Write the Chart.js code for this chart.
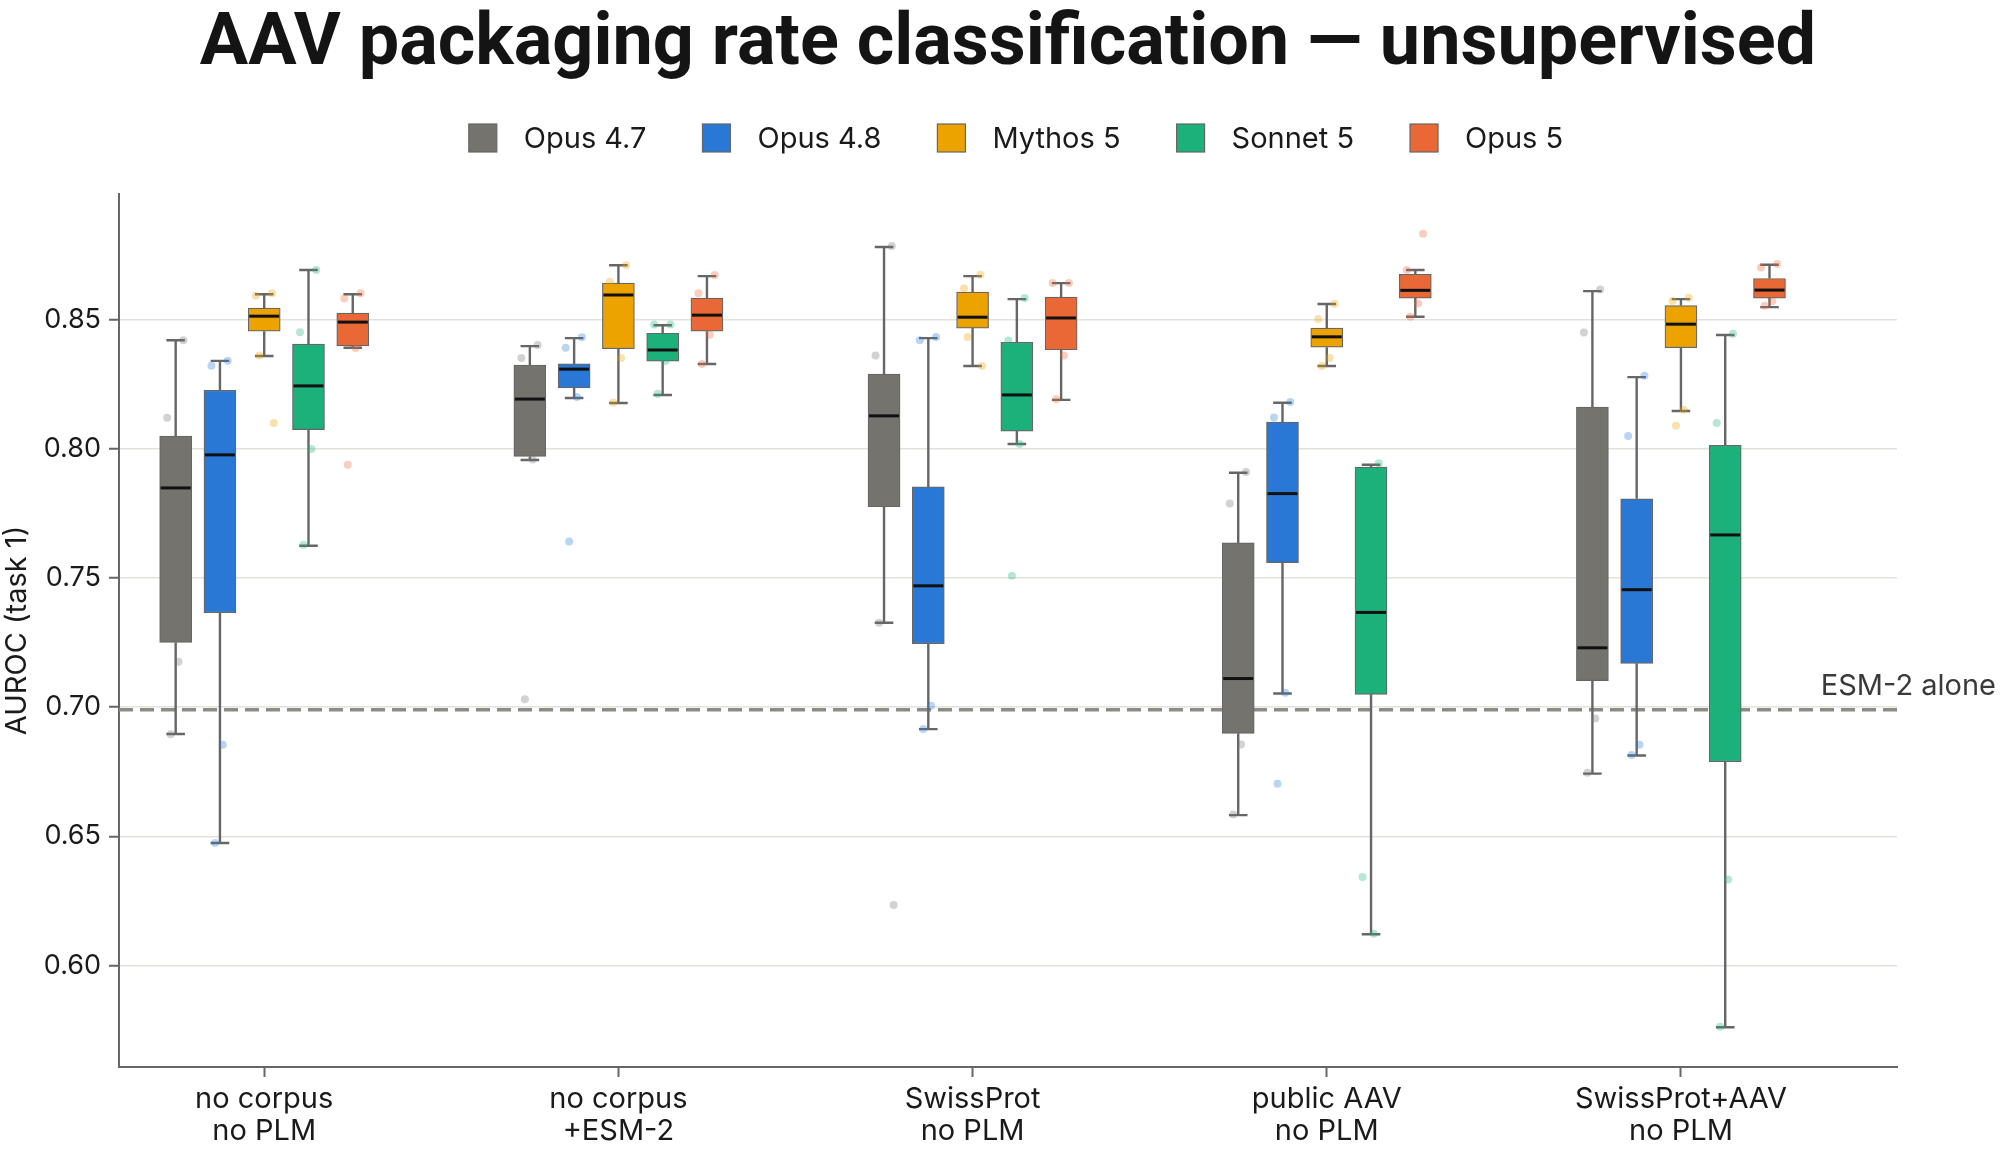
<!DOCTYPE html>
<html>
<head>
<meta charset="utf-8">
<script src="https://cdn.jsdelivr.net/npm/chart.js@4.4.1/dist/chart.umd.min.js"></script>
<style>
  html, body { margin: 0; padding: 0; background: #ffffff; }
  #wrap { width: 2000px; height: 1160px; }
</style>
</head>
<body>
<div id="wrap"><canvas id="aavChart" width="2000" height="1160"></canvas></div>
<script>
// --- Datos ---
const chartTitle = 'AAV packaging rate classification — unsupervised';
const groupLabels = [
  ['no corpus', 'no PLM'],
  ['no corpus', '+ESM-2'],
  ['SwissProt', 'no PLM'],
  ['public AAV', 'no PLM'],
  ['SwissProt+AAV', 'no PLM'],
];
const modelNames = ['Opus 4.7', 'Opus 4.8', 'Mythos 5', 'Sonnet 5', 'Opus 5'];
const modelColors = ['#74736d', '#2a78d5', '#eca300', '#1cb07a', '#ea6835'];
const yTicks = [0.60, 0.65, 0.70, 0.75, 0.80, 0.85];
const esmBaseline = 0.699;

// [bigote inf, Q1, mediana, Q3, bigote sup] por grupo
const opus47Box = [
  [0.6896, 0.7251, 0.7849, 0.8050, 0.8421],
  [0.7957, 0.7971, 0.8193, 0.8325, 0.8398],
  [0.7327, 0.7776, 0.8128, 0.8290, 0.8782],
  [0.6582, 0.6899, 0.7111, 0.7636, 0.7908],
  [0.6743, 0.7103, 0.7230, 0.8162, 0.8611],
];
const opus48Box = [
  [0.6474, 0.7366, 0.7977, 0.8227, 0.8341],
  [0.8197, 0.8236, 0.8309, 0.8329, 0.8429],
  [0.6915, 0.7246, 0.7470, 0.7853, 0.8429],
  [0.7053, 0.7560, 0.7827, 0.8104, 0.8179],
  [0.6813, 0.7170, 0.7455, 0.7807, 0.8278],
];
const mythos5Box = [
  [0.8360, 0.8456, 0.8514, 0.8545, 0.8599],
  [0.8178, 0.8388, 0.8596, 0.8642, 0.8711],
  [0.8321, 0.8468, 0.8510, 0.8607, 0.8669],
  [0.8321, 0.8394, 0.8434, 0.8468, 0.8561],
  [0.8147, 0.8392, 0.8483, 0.8555, 0.8580],
];
const sonnet5Box = [
  [0.7625, 0.8075, 0.8244, 0.8406, 0.8693],
  [0.8209, 0.8340, 0.8383, 0.8448, 0.8479],
  [0.8019, 0.8069, 0.8209, 0.8413, 0.8580],
  [0.6121, 0.7050, 0.7367, 0.7930, 0.7939],
  [0.5761, 0.6789, 0.7667, 0.8014, 0.8441],
];
const opus5Box = [
  [0.8392, 0.8399, 0.8491, 0.8526, 0.8599],
  [0.8329, 0.8456, 0.8518, 0.8584, 0.8669],
  [0.8190, 0.8384, 0.8507, 0.8588, 0.8642],
  [0.8512, 0.8584, 0.8614, 0.8676, 0.8693],
  [0.8549, 0.8584, 0.8615, 0.8660, 0.8713],
];

// puntos individuales (semillas) por grupo
const opus47Pts = [
  [0.8421, 0.8121, 0.7176, 0.6895],
  [0.8402, 0.8352, 0.7959, 0.7031],
  [0.8786, 0.8362, 0.8128, 0.7327, 0.6234],
  [0.7911, 0.7789, 0.6856, 0.6585],
  [0.8617, 0.8451, 0.6956, 0.6746],
];
const opus48Pts = [
  [0.8341, 0.8322, 0.6855, 0.6474],
  [0.8432, 0.8392, 0.8201, 0.7642],
  [0.8433, 0.8421, 0.7006, 0.6916],
  [0.8182, 0.8122, 0.7056, 0.6704],
  [0.8283, 0.8050, 0.6855, 0.6815],
];
const mythos5Pts = [
  [0.8603, 0.8593, 0.8514, 0.8362, 0.8100],
  [0.8711, 0.8647, 0.8352, 0.8180],
  [0.8674, 0.8622, 0.8510, 0.8433, 0.8321],
  [0.8562, 0.8503, 0.8352, 0.8321],
  [0.8585, 0.8573, 0.8152, 0.8090],
];
const sonnet5Pts = [
  [0.8693, 0.8452, 0.8000, 0.7629],
  [0.8482, 0.8482, 0.8340, 0.8214],
  [0.8584, 0.8420, 0.8019, 0.7509],
  [0.7945, 0.6343, 0.6123],
  [0.8446, 0.8100, 0.6333, 0.5763],
];
const opus5Pts = [
  [0.8603, 0.8582, 0.8391, 0.7939],
  [0.8673, 0.8603, 0.8442, 0.8329],
  [0.8642, 0.8642, 0.8362, 0.8192],
  [0.8833, 0.8693, 0.8563, 0.8512],
  [0.8716, 0.8702, 0.8572, 0.8554],
];

const allBoxes = [opus47Box, opus48Box, mythos5Box, sonnet5Box, opus5Box];
const allPts = [opus47Pts, opus48Pts, mythos5Pts, sonnet5Pts, opus5Pts];

// --- Disposición ---
const modelOffsets = [-0.25, -0.125, 0, 0.125, 0.25];
const jitterPattern = [0.022, -0.024, 0.008, -0.014, 0.027];
const BOX_PX = 32;
const FONT = "Inter, 'Noto Sans', 'DejaVu Sans', sans-serif";

function withAlpha(hex, a) {
  const n = parseInt(hex.slice(1), 16);
  return `rgba(${(n >> 16) & 255}, ${(n >> 8) & 255}, ${n & 255}, ${a})`;
}

const boxDatasets = modelNames.map((name, m) => ({
  type: 'bar',
  label: name,
  data: allBoxes[m].map((b, g) => ({ x: g + modelOffsets[m], y: [b[1], b[3]] })),
  backgroundColor: modelColors[m],
  borderColor: '#666666',
  borderWidth: 1.2,
  borderSkipped: false,
  barThickness: BOX_PX,
  grouped: false,
  order: 2,
}));

const pointDatasets = modelNames.map((name, m) => ({
  type: 'scatter',
  label: name + ' pts',
  data: allPts[m].flatMap((vals, g) =>
    vals.map((v, k) => ({ x: g + modelOffsets[m] + jitterPattern[k % jitterPattern.length], y: v }))),
  backgroundColor: withAlpha(modelColors[m], 0.32),
  borderWidth: 0,
  pointRadius: 4,
  order: 1,
}));

// Título y leyenda dibujados a mano, centrados sobre el lienzo
const header = {
  id: 'header',
  afterDraw(chart) {
    const { ctx } = chart;
    ctx.save();
    ctx.fillStyle = '#141414';
    ctx.font = `700 72px Roboto, 'Noto Sans', sans-serif`;
    ctx.textAlign = 'center';
    ctx.textBaseline = 'alphabetic';
    ctx.fillText(chartTitle, 1008, 64);

    const box = 28, gapText = 27, gapItem = 56, cy = 138;
    ctx.font = `29px ${FONT}`;
    const widths = modelNames.map(n => ctx.measureText(n).width);
    const total = widths.reduce((s, w) => s + box + gapText + w, 0) + gapItem * (modelNames.length - 1);
    let x = 1016 - total / 2;
    ctx.textBaseline = 'middle';
    ctx.textAlign = 'left';
    modelNames.forEach((name, m) => {
      ctx.fillStyle = modelColors[m];
      ctx.fillRect(x, cy - box / 2, box, box);
      ctx.strokeStyle = '#666666';
      ctx.lineWidth = 1.2;
      ctx.strokeRect(x, cy - box / 2, box, box);
      ctx.fillStyle = '#1a1a1a';
      ctx.fillText(name, x + box + gapText, cy + 1);
      x += box + gapText + widths[m] + gapItem;
    });
    ctx.restore();
  },
};

// Bigotes, medianas y línea de referencia ESM-2
const boxExtras = {
  id: 'boxExtras',
  beforeDatasetsDraw(chart) {
    const { ctx, chartArea, scales: { x, y } } = chart;
    const yb = y.getPixelForValue(esmBaseline);
    ctx.save();
    ctx.strokeStyle = '#8c8b85';
    ctx.lineWidth = 3.5;
    ctx.setLineDash([14, 7]);
    ctx.beginPath();
    ctx.moveTo(chartArea.left, yb);
    ctx.lineTo(chartArea.right, yb);
    ctx.stroke();
    ctx.setLineDash([]);
    ctx.fillStyle = '#3a3a3a';
    ctx.font = `29px ${FONT}`;
    ctx.textAlign = 'right';
    ctx.textBaseline = 'bottom';
    ctx.fillText('ESM-2 alone', 1996, yb - 9);

    ctx.strokeStyle = '#666666';
    ctx.lineWidth = 2.4;
    allBoxes.forEach((boxes, m) => {
      boxes.forEach((b, g) => {
        const cx = x.getPixelForValue(g + modelOffsets[m]);
        const cap = BOX_PX * 0.29;
        const [lo, q1, , q3, hi] = b.map(v => y.getPixelForValue(v));
        ctx.beginPath();
        ctx.moveTo(cx, q3); ctx.lineTo(cx, hi);
        ctx.moveTo(cx - cap, hi); ctx.lineTo(cx + cap, hi);
        ctx.moveTo(cx, q1); ctx.lineTo(cx, lo);
        ctx.moveTo(cx - cap, lo); ctx.lineTo(cx + cap, lo);
        ctx.stroke();
      });
    });
    ctx.restore();
  },
  afterDatasetsDraw(chart) {
    const { ctx, scales: { x, y } } = chart;
    ctx.save();
    ctx.strokeStyle = '#111111';
    ctx.lineWidth = 3;
    allBoxes.forEach((boxes, m) => {
      boxes.forEach((b, g) => {
        const cx = x.getPixelForValue(g + modelOffsets[m]);
        const ym = y.getPixelForValue(b[2]);
        ctx.beginPath();
        ctx.moveTo(cx - BOX_PX / 2 + 1, ym);
        ctx.lineTo(cx + BOX_PX / 2 - 1, ym);
        ctx.stroke();
      });
    });
    ctx.restore();
  },
};

new Chart(document.getElementById('aavChart'), {
  data: { datasets: [...boxDatasets, ...pointDatasets] },
  options: {
    responsive: false,
    animation: false,
    devicePixelRatio: 1,
    layout: { padding: { left: 0, right: 103, top: 194, bottom: 0 } },
    plugins: {
      title: { display: false },
      legend: { display: false },
      tooltip: { enabled: false },
    },
    scales: {
      x: {
        type: 'linear',
        min: -0.41,
        max: 4.61,
        offset: false,
        afterBuildTicks: scale => { scale.ticks = groupLabels.map((_, i) => ({ value: i })); },
        afterFit: scale => { scale.height = 93; },
        ticks: {
          callback: v => groupLabels[v],
          color: '#1a1a1a',
          font: { family: FONT, size: 29, lineHeight: 1.1 },
          padding: 6,
          maxRotation: 0,
          autoSkip: false,
        },
        grid: { offset: false, drawOnChartArea: false, drawTicks: true, tickLength: 10, tickColor: '#666666', tickWidth: 2 },
        border: { display: true, color: '#666666', width: 2 },
      },
      y: {
        min: 0.5607,
        max: 0.8987,
        afterBuildTicks: scale => { scale.ticks = yTicks.map(v => ({ value: v })); },
        afterFit: scale => { scale.width = 119; },
        ticks: {
          callback: v => v.toFixed(2),
          color: '#1a1a1a',
          font: { family: FONT, size: 27 },
          padding: 8,
        },
        title: {
          display: true,
          text: 'AUROC (task 1)',
          color: '#1a1a1a',
          font: { family: FONT, size: 29 },
          padding: { top: 0, bottom: 0 },
        },
        grid: { color: '#e2e1dc', lineWidth: 1.5, tickLength: 10, tickColor: '#666666', tickWidth: 2 },
        border: { display: true, color: '#666666', width: 2 },
      },
    },
  },
  plugins: [boxExtras, header],
});
</script>
</body>
</html>
